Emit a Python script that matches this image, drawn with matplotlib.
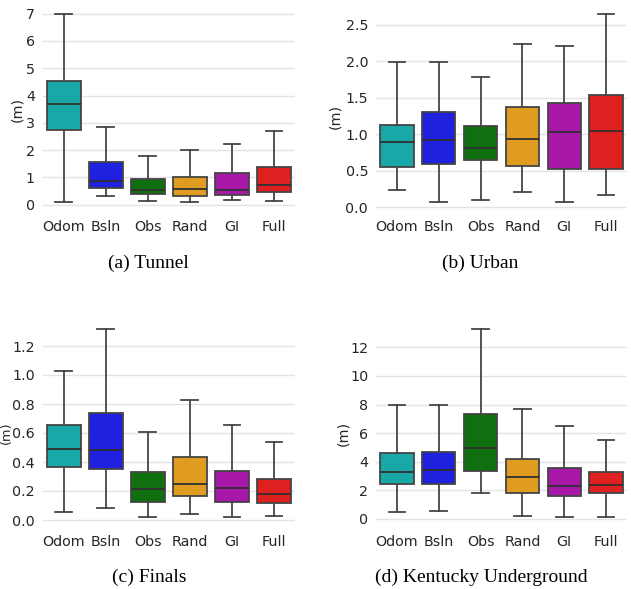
import matplotlib
matplotlib.use("Agg")
import matplotlib.pyplot as plt

categories = ["Odom", "Bsln", "Obs", "Rand", "GI", "Full"]
colors = ["#18a8a8", "#2020df", "#107010", "#df9c20", "#a818a8", "#df2020"]

# per panel: whislo, q1, med, q3, whishi
tunnel_lo  = [0.085, 0.305, 0.12, 0.10, 0.18, 0.15]
tunnel_q1  = [2.72, 0.62, 0.38, 0.33, 0.37, 0.48]
tunnel_med = [3.70, 0.855, 0.525, 0.586, 0.525, 0.72]
tunnel_q3  = [4.52, 1.56, 0.95, 1.00, 1.15, 1.38]
tunnel_hi  = [7.00, 2.85, 1.77, 1.99, 2.24, 2.70]

urban_lo  = [0.238, 0.069, 0.096, 0.206, 0.069, 0.169]
urban_q1  = [0.553, 0.594, 0.654, 0.567, 0.530, 0.521]
urban_med = [0.890, 0.928, 0.818, 0.941, 1.028, 1.051]
urban_q3  = [1.130, 1.300, 1.110, 1.376, 1.426, 1.545]
urban_hi  = [1.990, 1.990, 1.790, 2.244, 2.212, 2.655]

finals_lo  = [0.053, 0.083, 0.018, 0.039, 0.023, 0.025]
finals_q1  = [0.363, 0.352, 0.126, 0.163, 0.126, 0.115]
finals_med = [0.492, 0.480, 0.214, 0.248, 0.223, 0.177]
finals_q3  = [0.653, 0.738, 0.333, 0.432, 0.340, 0.283]
finals_hi  = [1.030, 1.320, 0.605, 0.825, 0.653, 0.540]

ky_lo  = [0.466, 0.56, 1.84, 0.23, 0.12, 0.12]
ky_q1  = [2.42, 2.47, 3.38, 1.84, 1.61, 1.82]
ky_med = [3.29, 3.40, 4.94, 2.94, 2.31, 2.35]
ky_q3  = [4.61, 4.68, 7.36, 4.17, 3.56, 3.26]
ky_hi  = [7.95, 7.99, 13.30, 7.71, 6.50, 5.55]

panels = [
    dict(data=(tunnel_lo, tunnel_q1, tunnel_med, tunnel_q3, tunnel_hi),
         caption="(a) Tunnel", ticks=[0, 1, 2, 3, 4, 5, 6, 7], fmt="{:.0f}",
         ylim=(-0.26, 7.35), y0=204.7, unit=27.29, x0=42.7, x1=295.0,
         cap_xy=(148, 263), ylab_x=17, ylab_fs=10.3),
    dict(data=(urban_lo, urban_q1, urban_med, urban_q3, urban_hi),
         caption="(b) Urban", ticks=[0.0, 0.5, 1.0, 1.5, 2.0, 2.5], fmt="{:.1f}",
         ylim=(-0.06, 2.78), y0=207.3, unit=72.93, x0=376.0, x1=627.0,
         cap_xy=(480, 263), ylab_x=335, ylab_fs=10.3),
    dict(data=(finals_lo, finals_q1, finals_med, finals_q3, finals_hi),
         caption="(c) Finals", ticks=[0.0, 0.2, 0.4, 0.6, 0.8, 1.0, 1.2], fmt="{:.1f}",
         ylim=(-0.047, 1.385), y0=520.0, unit=145.0, x0=42.7, x1=295.0,
         cap_xy=(149, 577), ylab_x=6.5, ylab_fs=9.3),
    dict(data=(ky_lo, ky_q1, ky_med, ky_q3, ky_hi),
         caption="(d) Kentucky Underground", ticks=[0, 2, 4, 6, 8, 10, 12], fmt="{:.0f}",
         ylim=(-0.54, 13.96), y0=519.0, unit=14.31, x0=376.0, x1=627.0,
         cap_xy=(481, 577), ylab_x=343, ylab_fs=10.3),
]

W, H = 631, 589
fig = plt.figure(figsize=(W / 100, H / 100), dpi=100)
fig.patch.set_facecolor("white")

edge = "#454545"
text_color = "#262626"

for p in panels:
    lo, hi = p["ylim"]
    bottom_px = p["y0"] - lo * p["unit"]
    top_px = p["y0"] - hi * p["unit"]
    rect = [p["x0"] / W, 1 - bottom_px / H, (p["x1"] - p["x0"]) / W, (bottom_px - top_px) / H]
    ax = fig.add_axes(rect)
    wl, q1, med, q3, wh = p["data"]
    stats = []
    for i, c in enumerate(categories):
        stats.append(dict(label=c, whislo=wl[i], q1=q1[i], med=med[i], q3=q3[i],
                          whishi=wh[i], fliers=[]))
    bp = ax.bxp(stats, positions=range(len(categories)), widths=0.8,
                patch_artist=True, showfliers=False,
                boxprops=dict(edgecolor=edge, linewidth=1.3),
                whiskerprops=dict(color=edge, linewidth=1.3),
                capprops=dict(color=edge, linewidth=1.3),
                medianprops=dict(color="#303030", linewidth=1.3))
    for patch, col in zip(bp["boxes"], colors):
        patch.set_facecolor(col)
    for item in bp["boxes"] + bp["whiskers"] + bp["caps"] + bp["medians"]:
        item.set_zorder(3)
    ax.set_xlim(-0.5, 5.5)
    ax.set_ylim(lo, hi)
    ax.set_yticks(p["ticks"])
    ax.set_yticklabels([p["fmt"].format(t) for t in p["ticks"]])
    ax.set_xticks(range(len(categories)))
    ax.set_xticklabels(categories)
    for s in ax.spines.values():
        s.set_visible(False)
    ax.yaxis.grid(True, color="#e3e3e3", linewidth=1.0, zorder=0)
    ax.xaxis.grid(False)
    ax.set_axisbelow(True)
    ax.tick_params(axis="both", length=0, labelsize=10.3, colors=text_color, pad=6)
    ax.tick_params(axis="y", pad=5.6)
    ax.set_facecolor("white")
    fig.text(p["ylab_x"] / W, 1 - (p["y0"] - (p["ticks"][-1] / 2) * p["unit"]) / H,
             "(m)", rotation=90, ha="center", va="center", fontsize=p["ylab_fs"],
             color=text_color)
    fig.text(p["cap_xy"][0] / W, 1 - p["cap_xy"][1] / H, p["caption"],
             ha="center", va="center", fontsize=14, family="Liberation Serif",
             color="black")

fig.savefig("out.png", dpi=100, facecolor="white")
